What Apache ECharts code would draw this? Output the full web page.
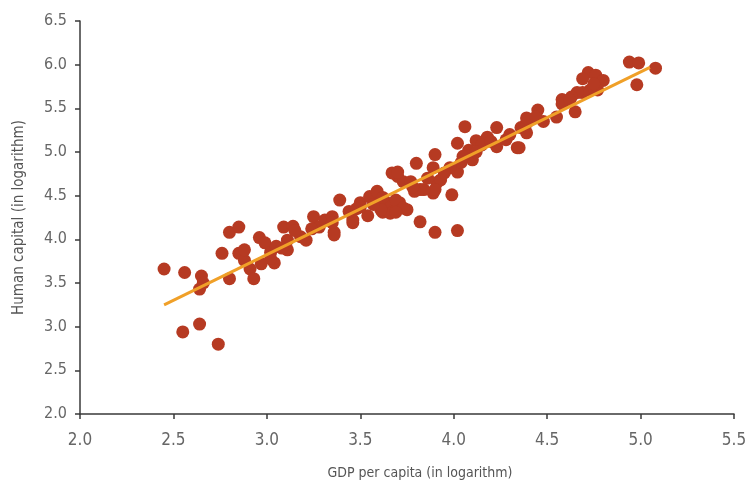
<!DOCTYPE html>
<html>
<head>
<meta charset="utf-8">
<style>
  html, body { margin: 0; padding: 0; background: #fff; }
  #chart { width: 747px; height: 489px; }
</style>
<script src="https://cdn.jsdelivr.net/npm/echarts@6/dist/echarts.min.js"></script>
</head>
<body>
<div id="chart"></div>
<script>
// Log GDP per capita (x) and log human capital (y) per country
const gdpLog = [
  2.45, 2.56, 2.65, 2.66, 2.64, 2.55, 2.64, 2.74, 2.76, 2.80,
  2.85, 2.80, 2.85, 2.88, 2.91, 2.93, 2.88, 2.96, 2.99, 3.02,
  3.04, 3.05, 3.11, 3.09, 3.11, 3.14, 3.18, 3.21, 3.25, 3.28,
  3.31, 3.35, 3.36, 3.39, 3.46, 3.50, 3.55, 3.61, 3.54, 3.62,
  3.67, 3.70, 3.73, 3.50, 3.59, 3.67, 3.64, 3.71, 3.75, 3.66,
  3.61, 3.46, 3.80, 3.90, 3.82, 3.91, 3.89, 3.82, 3.90, 4.02,
  3.99, 4.02, 4.02, 4.06, 4.12, 4.18, 4.23, 4.23, 4.28, 4.34,
  4.36, 4.39, 4.08, 4.10, 4.04, 3.98, 3.70, 3.77, 3.89, 3.93,
  3.90, 3.84, 3.79, 3.69, 3.73, 3.69, 3.35, 3.36, 4.94, 4.99,
  5.08, 4.98, 4.72, 4.76, 4.69, 4.80, 4.77, 4.73, 4.69, 4.66,
  4.63, 4.58, 4.65, 4.55, 4.48, 4.45, 4.39, 4.39, 4.35, 4.58,
  4.62, 4.75, 4.15, 4.20, 4.44, 4.30, 3.02, 3.08, 2.97, 3.15,
  3.24, 3.44, 3.48, 3.57, 3.62, 3.78, 3.86, 3.95, 4.05, 4.12
];
const humanCapitalLog = [
  3.66, 3.62, 3.58, 3.50, 3.43, 2.94, 3.03, 2.80, 3.84, 4.08,
  4.14, 3.55, 3.84, 3.76, 3.66, 3.55, 3.88, 4.02, 3.96, 3.85,
  3.73, 3.92, 3.99, 4.14, 3.88, 4.15, 4.03, 3.99, 4.26, 4.14,
  4.22, 4.26, 4.08, 4.45, 4.19, 4.42, 4.49, 4.45, 4.27, 4.31,
  4.37, 4.72, 4.66, 4.37, 4.55, 4.76, 4.42, 4.42, 4.34, 4.30,
  4.34, 4.22, 4.87, 4.97, 4.57, 4.65, 4.53, 4.20, 4.08, 4.10,
  4.51, 4.77, 5.10, 5.29, 5.13, 5.17, 5.28, 5.06, 5.14, 5.05,
  5.28, 5.33, 5.02, 4.91, 4.88, 4.82, 4.77, 4.66, 4.82, 4.68,
  4.57, 4.57, 4.55, 4.45, 4.36, 4.31, 4.19, 4.05, 6.03, 6.02,
  5.96, 5.77, 5.91, 5.88, 5.84, 5.82, 5.71, 5.71, 5.68, 5.68,
  5.63, 5.60, 5.46, 5.40, 5.35, 5.48, 5.39, 5.22, 5.05, 5.55,
  5.60, 5.78, 5.08, 5.12, 5.40, 5.20, 3.78, 3.90, 3.72, 4.10,
  4.12, 4.32, 4.35, 4.40, 4.48, 4.60, 4.70, 4.76, 4.95, 5.00
];
// Fitted line end points
const fitX = [2.45, 5.05];
const fitY = [3.25, 5.97];

const xTicks = ['2.0', '2.5', '3.0', '3.5', '4.0', '4.5', '5.0', '5.5'];
const yTicks = ['2.0', '2.5', '3.0', '3.5', '4.0', '4.5', '5.0', '5.5', '6.0', '6.5'];

const FONT = '"Liberation Sans Narrow", "DejaVu Sans Condensed", "Liberation Sans", sans-serif';

const scatterData = gdpLog.map((x, i) => [x, humanCapitalLog[i]]);
const fitData = fitX.map((x, i) => [x, fitY[i]]);

const chart = echarts.init(document.getElementById('chart'), null, { renderer: 'canvas' });

const axisCommon = {
  type: 'value',
  interval: 0.5,
  splitLine: { show: false },
  axisLine: { show: true, lineStyle: { color: '#3a3a3a', width: 1.5 } },
  axisTick: { show: true, length: 5, lineStyle: { color: '#3a3a3a', width: 1.5 } },
  nameLocation: 'middle'
};

chart.setOption({
  animation: false,
  grid: { left: 80, right: 13, top: 21, bottom: 75, outerBoundsMode: 'none', containLabel: false },
  xAxis: Object.assign({}, axisCommon, {
    min: 2.0, max: 5.5,
    name: 'GDP per capita (in logarithm)',
    nameGap: 52,
    nameTextStyle: { fontFamily: FONT, fontSize: 14, color: '#555', padding: [0, 0, 0, 26] },
    axisLabel: {
      fontFamily: FONT, fontSize: 17, color: '#666', margin: 18,
      formatter: (v) => xTicks[Math.round((v - 2.0) / 0.5)]
    }
  }),
  yAxis: Object.assign({}, axisCommon, {
    min: 2.0, max: 6.5,
    name: 'Human capital (in logarithm)',
    nameGap: 53,
    nameTextStyle: { fontFamily: FONT, fontSize: 15, color: '#555' },
    axisLabel: {
      fontFamily: FONT, fontSize: 16, color: '#666', margin: 13,
      formatter: (v) => yTicks[Math.round((v - 2.0) / 0.5)]
    }
  }),
  series: [
    {
      type: 'scatter',
      data: scatterData,
      symbolSize: 13,
      itemStyle: { color: '#b63a22', opacity: 1 },
      z: 2
    },
    {
      type: 'line',
      data: fitData,
      showSymbol: false,
      symbol: 'none',
      lineStyle: { color: '#f0a028', width: 3 },
      z: 3
    }
  ]
});
</script>
</body>
</html>
